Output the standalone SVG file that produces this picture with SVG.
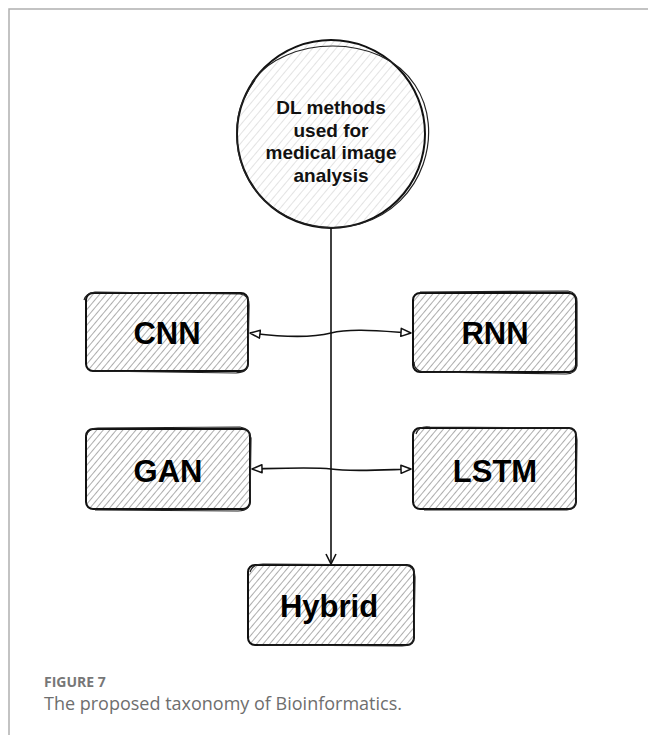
<svg xmlns="http://www.w3.org/2000/svg" width="648" height="735" viewBox="0 0 648 735">
  <defs>
    <pattern id="hatchBox" width="5" height="5" patternUnits="userSpaceOnUse" patternTransform="rotate(40)">
      <line x1="0" y1="0" x2="0" y2="5" stroke="#8a8a8a" stroke-width="1.4"/>
    </pattern>
    <pattern id="hatchCircle" width="6" height="6" patternUnits="userSpaceOnUse" patternTransform="rotate(40)">
      <line x1="0" y1="0" x2="0" y2="6" stroke="#c8c8c8" stroke-width="1"/>
    </pattern>
    <marker id="arr" viewBox="0 0 12 10" refX="11" refY="5" markerWidth="12" markerHeight="10" markerUnits="userSpaceOnUse" orient="auto-start-reverse">
      <path d="M1,1 L11,5 L1,9 Z" fill="#fff" stroke="#111" stroke-width="1.5" stroke-linejoin="round"/>
    </marker>
    <marker id="arrDown" viewBox="0 0 12 12" refX="11" refY="6" markerWidth="12" markerHeight="12" markerUnits="userSpaceOnUse" orient="auto">
      <path d="M1,1 L11,6 L1,11" fill="none" stroke="#111" stroke-width="1.6"/>
    </marker>
  </defs>
  <style>
    .frame { stroke: #b0b0b0; stroke-width: 1.5; fill: none; }
    .box { fill: url(#hatchBox); stroke: #111; stroke-width: 2; }
    .sketch { fill: none; stroke: #222; stroke-width: 1.2; }
    .lbl { font-family: "Liberation Sans", Arial, sans-serif; font-weight: bold; font-size: 31px; fill: #000; text-anchor: middle; }
    .ctext { font-family: "Liberation Sans", Arial, sans-serif; font-weight: bold; font-size: 19px; fill: #111; text-anchor: middle; }
    .conn { stroke: #111; stroke-width: 1.6; fill: none; }
  </style>
  <rect width="648" height="735" fill="#fff"/>
  <path class="frame" d="M9,735 L9,9 L648,9"/>

  <g id="node-root">
    <circle cx="331" cy="134" r="94" fill="url(#hatchCircle)" stroke="#111" stroke-width="2"/>
    <path class="sketch" d="M252,82 C285,35 380,32 415,85 C445,130 425,205 360,224 C300,240 240,200 237,140 C235,110 245,95 255,80"/>
    <text class="ctext" x="331" y="114">DL methods</text>
    <text class="ctext" x="331" y="137">used for</text>
    <text class="ctext" x="331" y="159">medical image</text>
    <text class="ctext" x="331" y="182">analysis</text>
  </g>

  <g id="node-cnn">
    <rect class="box" x="86" y="293" width="162" height="78" rx="7"/>
    <path class="sketch" d="M84,300 C85,296 88,293 95,292 L240,294 C247,295 249,299 249,305 L248,365 C247,371 243,372 236,373 L92,371"/>
    <text class="lbl" x="167" y="344">CNN</text>
  </g>

  <g id="node-rnn">
    <rect class="box" x="413" y="293" width="163" height="79" rx="7"/>
    <path class="sketch" d="M420,292 L568,291 C575,292 577,296 577,302 L577,366 C576,371 572,374 566,374 L423,372 C417,371 414,368 414,362"/>
    <text class="lbl" x="495" y="344">RNN</text>
  </g>

  <g id="node-gan">
    <rect class="box" x="86" y="429" width="164" height="80" rx="7"/>
    <path class="sketch" d="M86,437 C87,431 91,428 98,428 L240,427 C247,428 250,432 251,438 L250,503 C249,508 245,511 238,511 L95,510"/>
    <text class="lbl" x="168" y="482">GAN</text>
  </g>

  <g id="node-lstm">
    <rect class="box" x="413" y="428" width="163" height="81" rx="7"/>
    <path class="sketch" d="M416,434 C418,428 423,426 430,427 L568,428 C575,429 577,433 577,440 L576,502 C575,508 571,510 564,510 L424,510"/>
    <text class="lbl" x="495" y="482">LSTM</text>
  </g>

  <g id="node-hybrid">
    <rect class="box" x="248" y="565" width="166" height="80" rx="7"/>
    <path class="sketch" d="M250,572 C252,566 256,564 263,564 L405,565 C412,566 415,570 415,577 L414,638 C413,644 409,646 402,646 L258,645"/>
    <text class="lbl" x="329" y="617">Hybrid</text>
  </g>

  <g id="connectors">
    <path class="conn" d="M331,228 L331,564" marker-end="url(#arrDown)"/>
    <path class="conn" d="M250,333 C290,338 315,337 331,333 C350,328 380,331 411,333" marker-start="url(#arr)" marker-end="url(#arr)"/>
    <path class="conn" d="M252,469 C290,468 315,467 331,469 C350,472 380,470 411,469" marker-start="url(#arr)" marker-end="url(#arr)"/>
  </g>

  <g id="caption">
    <text x="44" y="687" font-family="'Open Sans', 'Liberation Sans', sans-serif" font-weight="bold" font-size="14" fill="#777">FIGURE 7</text>
    <text x="44" y="710" font-family="'Open Sans', 'Liberation Sans', sans-serif" font-size="18" fill="#6e6e6e">The proposed taxonomy of Bioinformatics.</text>
  </g>
</svg>
